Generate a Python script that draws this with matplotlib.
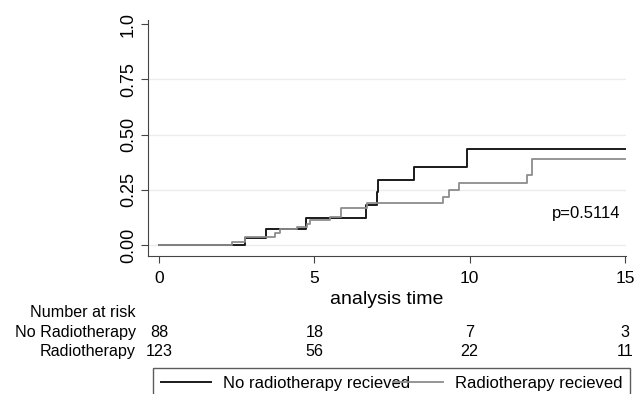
"""Kaplan-Meier style failure curves with number-at-risk table"""
import matplotlib
matplotlib.use('Agg')
import matplotlib.pyplot as plt
from matplotlib.transforms import blended_transform_factory

plt.rcParams['font.family'] = ['Liberation Sans', 'DejaVu Sans']

# step data
no_rt_times = [0, 2.78, 3.46, 4.72, 6.67, 7.02, 7.06, 8.2, 9.9, 15]
no_rt_fail = [0, 0.030, 0.071, 0.121, 0.182, 0.241, 0.294, 0.354, 0.434, 0.434]

rt_times = [0, 2.35, 2.78, 3.73, 3.9, 4.43, 4.75, 4.86, 5.5, 5.85, 6.7,
            9.14, 9.33, 9.67, 11.84, 12.02, 15]
rt_fail = [0, 0.015, 0.035, 0.053, 0.071, 0.083, 0.095, 0.113, 0.128, 0.168,
           0.19, 0.219, 0.249, 0.28, 0.317, 0.388, 0.388]

risk_times = [0, 5, 10, 15]
risk_no_rt = [88, 18, 7, 3]
risk_rt = [123, 56, 22, 11]
p_text = 'p=0.5114'

fig = plt.figure(figsize=(6.38, 3.94), dpi=100)
ax = fig.add_axes([0.232, 0.350, 0.749, 0.599])

for y in [0, 0.25, 0.5, 0.75]:
    ax.axhline(y, color='#ececec', linewidth=1, zorder=0)

l1, = ax.step(no_rt_times, no_rt_fail, where='post', color='#1a1a1a',
              linewidth=1.4, label='No radiotherapy recieved')
l2, = ax.step(rt_times, rt_fail, where='post', color='#8c8c8c',
              linewidth=1.3, label='Radiotherapy recieved')

ax.text(14.85, 0.145, p_text, ha='right', va='center', fontsize=12)

ax.set_xlim(-0.354, 15.03)
ax.set_ylim(-0.05, 1.018)
ax.set_xticks([0, 5, 10, 15])
ax.set_yticks([0, 0.25, 0.5, 0.75, 1.0])
ax.set_yticklabels(['0.00', '0.25', '0.50', '0.75', '1.0'],
                   rotation=90, va='center')
ax.tick_params(length=5, color='#444444')
ax.tick_params(axis='x', labelsize=12.5, pad=6)
ax.tick_params(axis='y', labelsize=13, pad=3)
for side in ['top', 'right']:
    ax.spines[side].set_visible(False)
for side in ['left', 'bottom']:
    ax.spines[side].set_color('#444444')
ax.spines['left'].set_bounds(-0.05, 1.018)
ax.set_xlabel('analysis time', fontsize=14, labelpad=3)

# number at risk table
trans = blended_transform_factory(ax.transData, fig.transFigure)
fig.text(0.213, 0.2056, 'Number at risk', ha='right', va='center', fontsize=11.6)
fig.text(0.213, 0.157, 'No Radiotherapy', ha='right', va='center', fontsize=11.6)
fig.text(0.213, 0.109, 'Radiotherapy', ha='right', va='center', fontsize=11.6)
for t, a, b in zip(risk_times, risk_no_rt, risk_rt):
    ax.text(t, 0.157, str(a), transform=trans, ha='center', va='center',
            fontsize=11.6, clip_on=False)
    ax.text(t, 0.109, str(b), transform=trans, ha='center', va='center',
            fontsize=11.6, clip_on=False)

leg = fig.legend(handles=[l1, l2], loc='upper left',
                 bbox_to_anchor=(0.240, 0.066, 0.748, 0.0), mode='expand',
                 ncol=2, fontsize=12, frameon=True, fancybox=False,
                 handlelength=3.0, handletextpad=0.7, columnspacing=0.2,
                 borderpad=0.5, borderaxespad=0)
leg.get_frame().set_edgecolor('#333333')
leg.get_frame().set_linewidth(1.0)

plt.savefig('out.png', dpi=100)
